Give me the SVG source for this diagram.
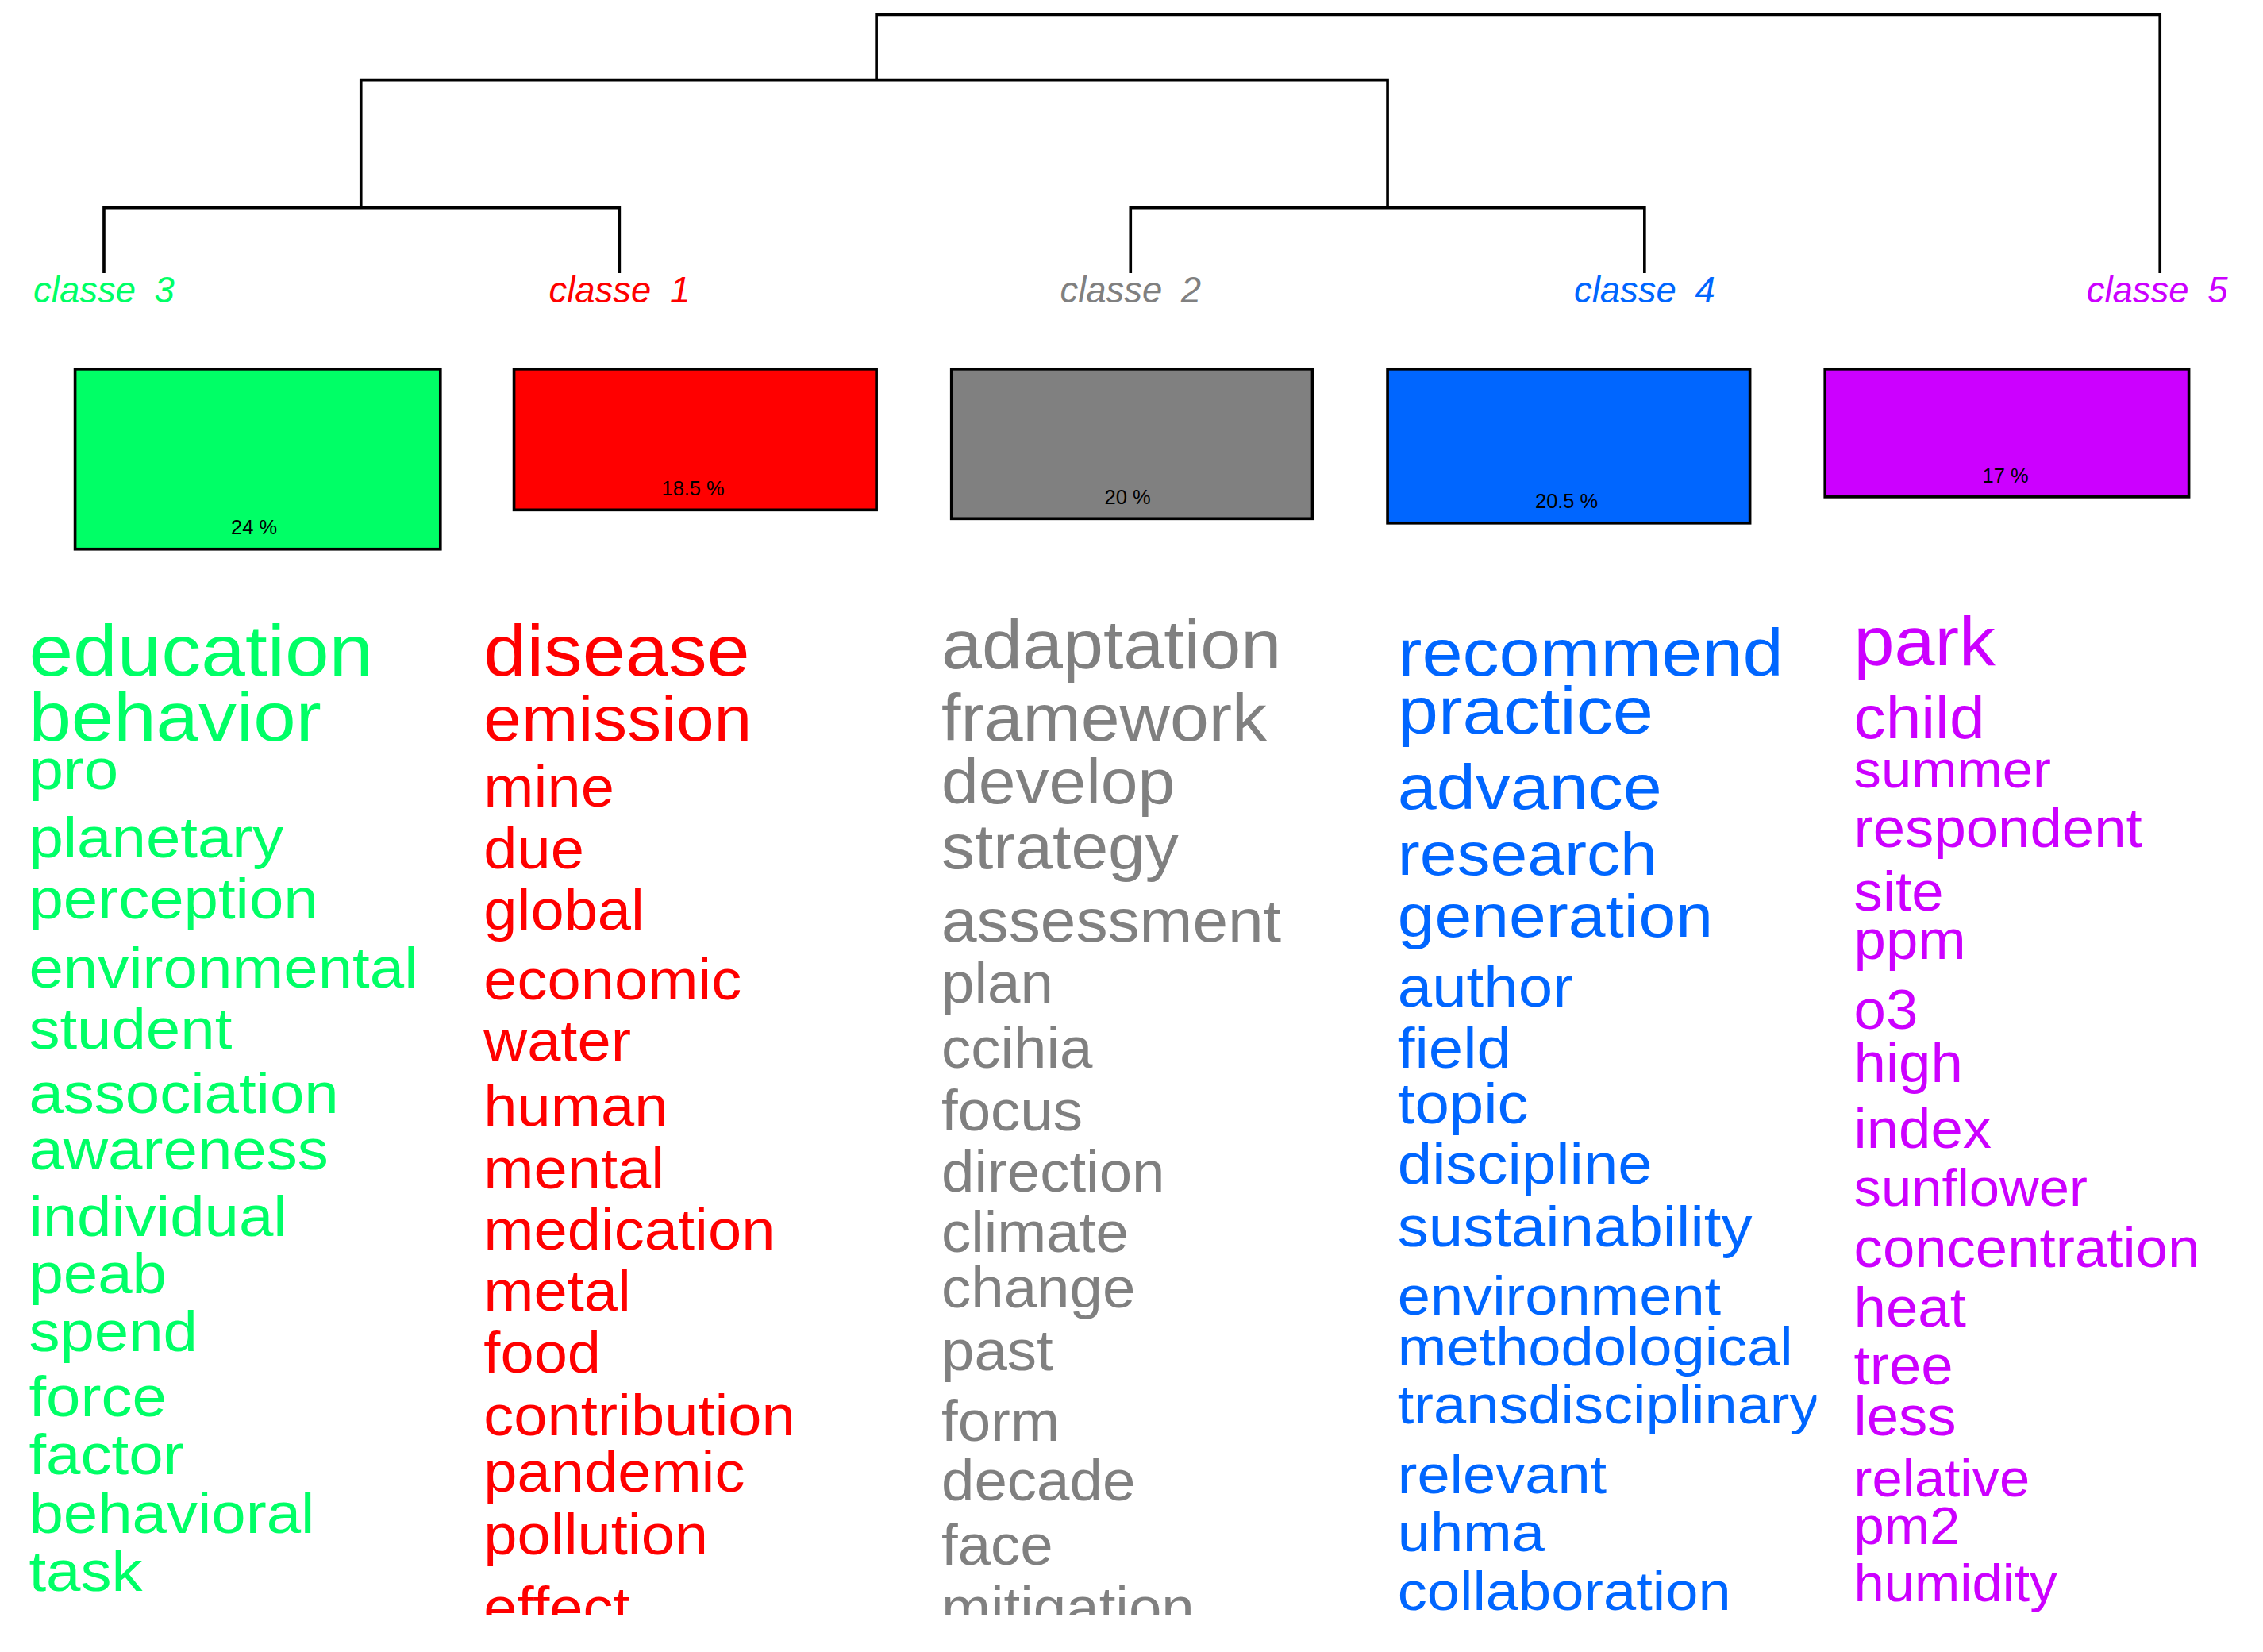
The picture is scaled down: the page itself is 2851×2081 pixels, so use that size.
<svg xmlns="http://www.w3.org/2000/svg" width="2851" height="2081" viewBox="0 0 2851 2081">
<style>
.w{font-family:"Liberation Sans",Arial,sans-serif;font-size:39px}
.c{font-family:"Liberation Sans",Arial,sans-serif;font-size:25px;font-style:italic;text-anchor:middle;word-spacing:6px}
.p{font-family:"Liberation Sans",Arial,sans-serif;font-size:14px;text-anchor:middle;fill:#000}
.b{stroke:#000;stroke-width:2}
.l{stroke:#000;stroke-width:2;fill:none}
</style>
<defs>
<clipPath id="cl"><rect x="0" y="0" width="1560" height="1112"/></clipPath>
<clipPath id="cb"><rect x="960" y="0" width="298" height="1112"/></clipPath>
</defs>
<rect width="2851" height="2081" fill="#fff"/>
<g transform="scale(1.819,1.83)">
<g id="connectors" class="l">
<path d="M607 55V10H1496V188"/>
<path d="M250 143V55H961V143"/>
<path d="M72 188V143H429V188"/>
<path d="M783 188V143H1139V188"/>
</g>
<g id="classe3"><text class="c" x="72" y="208" fill="#00ff66">classe 3</text><rect class="b" x="52" y="254" width="253" height="124" fill="#00ff66"/><text class="p" x="176" y="368">24 %</text></g>
<g id="classe1"><text class="c" x="429" y="208" fill="#ff0000">classe 1</text><rect class="b" x="356" y="254" width="251" height="97" fill="#ff0000"/><text class="p" x="480" y="341">18.5 %</text></g>
<g id="classe2"><text class="c" x="783" y="208" fill="#808080">classe 2</text><rect class="b" x="659" y="254" width="250" height="103" fill="#808080"/><text class="p" x="781" y="347">20 %</text></g>
<g id="classe4"><text class="c" x="1139" y="208" fill="#0066ff">classe 4</text><rect class="b" x="961" y="254" width="251" height="106" fill="#0066ff"/><text class="p" x="1085" y="350">20.5 %</text></g>
<g id="classe5"><text class="c" x="1494" y="208" fill="#cc00ff">classe 5</text><rect class="b" x="1264" y="254" width="252" height="88" fill="#cc00ff"/><text class="p" x="1389" y="332">17 %</text></g>
<g id="words" clip-path="url(#cl)">
<g fill="#00ff66" class="w" transform="translate(20 0) scale(1.1 1) translate(-20 0)">
<text x="20" y="465" font-size="50">education</text><text x="20" y="510" font-size="48">behavior</text><text x="20" y="543">pro</text><text x="20" y="590">planetary</text><text x="20" y="632">perception</text><text x="20" y="680">environmental</text><text x="20" y="722">student</text><text x="20" y="766">association</text><text x="20" y="805">awareness</text><text x="20" y="851">individual</text><text x="20" y="890">peab</text><text x="20" y="930">spend</text><text x="20" y="975">force</text><text x="20" y="1015">factor</text><text x="20" y="1055">behavioral</text><text x="20" y="1095">task</text>
</g>
<g fill="#ff0000" class="w" transform="translate(335 0) scale(1.07 1) translate(-335 0)">
<text x="335" y="465" font-size="50">disease</text><text x="335" y="510" font-size="44">emission</text><text x="335" y="555">mine</text><text x="335" y="598">due</text><text x="335" y="640">global</text><text x="335" y="688">economic</text><text x="335" y="730">water</text><text x="335" y="775">human</text><text x="335" y="818">mental</text><text x="335" y="860">medication</text><text x="335" y="902">metal</text><text x="335" y="945">food</text><text x="335" y="988">contribution</text><text x="335" y="1027">pandemic</text><text x="335" y="1070">pollution</text><text x="335" y="1120">effect</text>
</g>
<g fill="#808080" class="w" transform="translate(652 0) scale(1.05 1) translate(-652 0)">
<text x="652" y="460" font-size="48">adaptation</text><text x="652" y="510" font-size="46">framework</text><text x="652" y="553" font-size="44">develop</text><text x="652" y="598" font-size="44">strategy</text><text x="652" y="648" font-size="42">assessment</text><text x="652" y="690">plan</text><text x="652" y="735">ccihia</text><text x="652" y="778">focus</text><text x="652" y="820">direction</text><text x="652" y="862">climate</text><text x="652" y="900">change</text><text x="652" y="943">past</text><text x="652" y="992">form</text><text x="652" y="1033">decade</text><text x="652" y="1077">face</text><text x="652" y="1120">mitigation</text>
</g>
<g clip-path="url(#cb)">
<g fill="#0066ff" class="w" transform="translate(968 0) scale(1.1 1) translate(-968 0)">
<text x="968" y="465" font-size="46">recommend</text><text x="968" y="505" font-size="46">practice</text><text x="968" y="557" font-size="44">advance</text><text x="968" y="602" font-size="42">research</text><text x="968" y="645" font-size="42">generation</text><text x="968" y="693">author</text><text x="968" y="735">field</text><text x="968" y="773">topic</text><text x="968" y="815">discipline</text><text x="968" y="858">sustainability</text><text x="968" y="905" font-size="37">environment</text><text x="968" y="940" font-size="37">methodological</text><text x="968" y="980" font-size="37">transdisciplinary</text><text x="968" y="1028" font-size="37">relevant</text><text x="968" y="1068" font-size="37">uhma</text><text x="968" y="1108" font-size="37">collaboration</text>
</g>
</g>
<g fill="#cc00ff" class="w" transform="translate(1284 0) scale(1.05 1) translate(-1284 0)">
<text x="1284" y="458" font-size="48">park</text><text x="1284" y="508" font-size="42">child</text><text x="1284" y="542" font-size="36">summer</text><text x="1284" y="583" font-size="38">respondent</text><text x="1284" y="627" font-size="38">site</text><text x="1284" y="660" font-size="38">ppm</text><text x="1284" y="708" font-size="38">o3</text><text x="1284" y="745" font-size="38">high</text><text x="1284" y="790" font-size="38">index</text><text x="1284" y="830" font-size="36">sunflower</text><text x="1284" y="872" font-size="38">concentration</text><text x="1284" y="913" font-size="38">heat</text><text x="1284" y="953" font-size="38">tree</text><text x="1284" y="988" font-size="38">less</text><text x="1284" y="1030" font-size="36">relative</text><text x="1284" y="1063" font-size="36">pm2</text><text x="1284" y="1102" font-size="36">humidity</text>
</g>
</g>
</g>
</svg>
